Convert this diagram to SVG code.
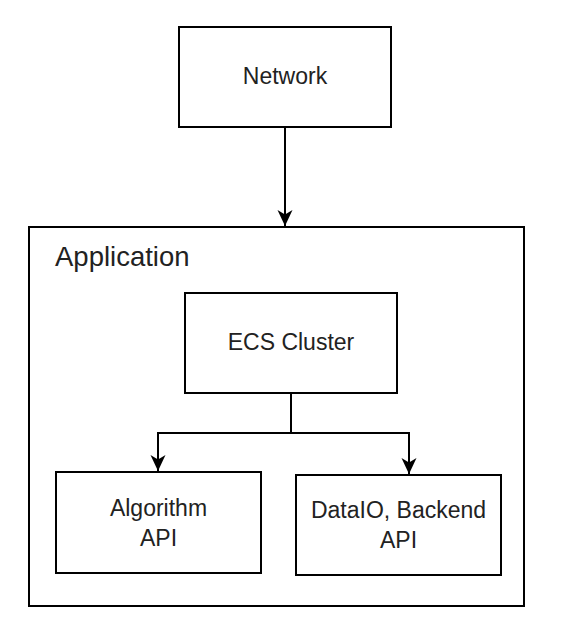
<svg xmlns="http://www.w3.org/2000/svg" width="574" height="637" viewBox="0 0 574 637">
<style>
.box{fill:#fff;stroke:#000;stroke-width:2}
.lbl{font-family:"Liberation Sans",Arial,sans-serif;font-size:23px;fill:#222;text-anchor:middle}
.conn{fill:none;stroke:#000;stroke-width:2}
</style>
<defs>
<marker id="arr" markerUnits="userSpaceOnUse" markerWidth="18" markerHeight="17" refX="16" refY="7.5" orient="auto">
<path d="M0,0 L16,7.5 L0,15 L4.5,7.5 Z" fill="#000"/>
</marker>
</defs>
<rect width="574" height="637" fill="#fff"/>
<g id="application">
<rect class="box" x="29" y="227" width="495" height="379"/>
<text x="55" y="266" style="font-family:'Liberation Sans',Arial,sans-serif;font-size:27.5px;fill:#222">Application</text>
</g>
<g id="network">
<rect class="box" x="179" y="27" width="212" height="100"/>
<text class="lbl" x="285" y="84">Network</text>
</g>
<g id="ecs">
<rect class="box" x="185" y="293" width="212" height="100"/>
<text class="lbl" x="291" y="350">ECS Cluster</text>
</g>
<g id="algorithm">
<rect class="box" x="56" y="472" width="205" height="101"/>
<text class="lbl" x="158.5" y="516">Algorithm</text>
<text class="lbl" x="158.5" y="546">API</text>
</g>
<g id="dataio">
<rect class="box" x="296" y="475" width="205" height="100"/>
<text class="lbl" x="398.5" y="518">DataIO, Backend</text>
<text class="lbl" x="398.5" y="548">API</text>
</g>
<g id="connectors">
<path class="conn" d="M285,127 L285,226" marker-end="url(#arr)"/>
<path class="conn" d="M291,393 L291,433 L158,433 L158,471" marker-end="url(#arr)"/>
<path class="conn" d="M291,433 L409,433 L409,474" marker-end="url(#arr)"/>
</g>
</svg>
